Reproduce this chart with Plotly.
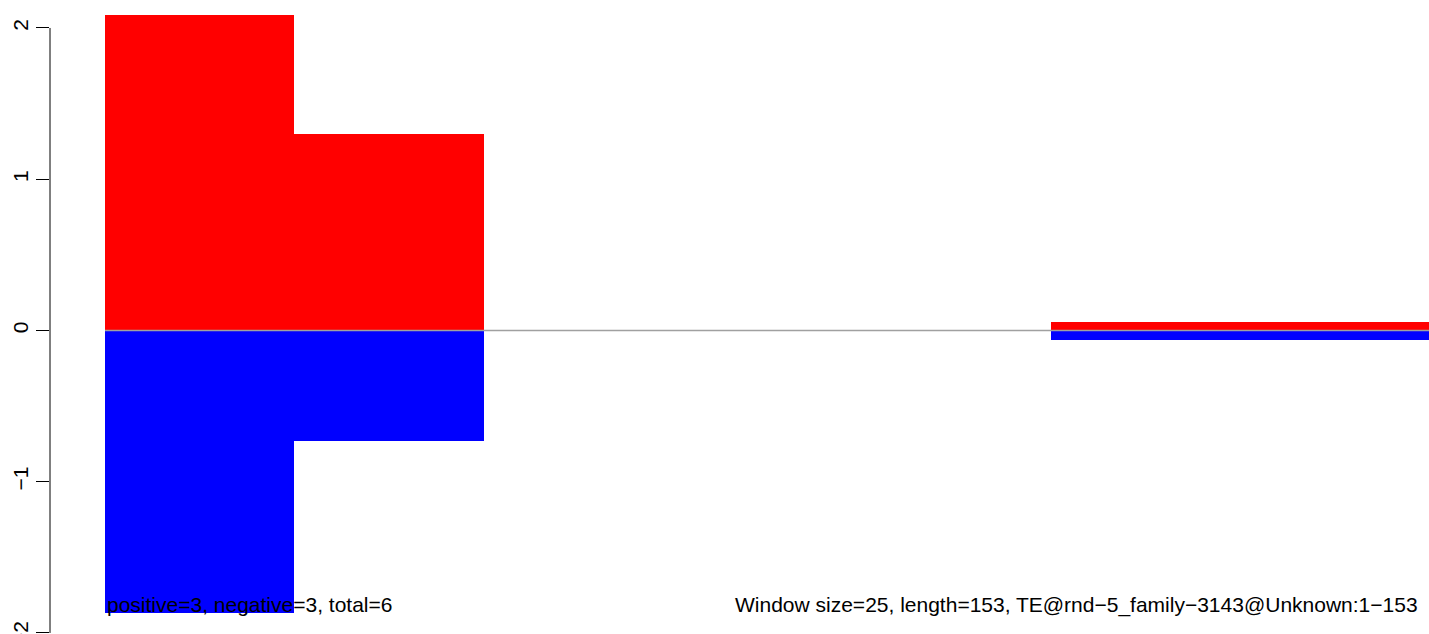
import plotly.graph_objects as go

# Data
window_starts = [0, 25, 50, 75, 100, 125, 150]
window_size = 25
positive = [2.085, 1.297, 0, 0, 0, 0.056, 0.056]
negative = [-1.865, -0.730, 0, 0, 0, -0.063, -0.063]
seq_length = 153
y_ticks = [-2, -1, 0, 1, 2]
left_label = "positive=3, negative=3, total=6"
right_label = "Window size=25, length=153, TE@rnd\u22125_family\u22123143@Unknown:1\u2212153"

FONT = "Liberation Sans, Arial, Helvetica, sans-serif"
FS = 21

mids = [s + window_size / 2 for s in window_starts]

fig = go.Figure()
# zero line
fig.add_trace(go.Scatter(x=[0, window_starts[-1] + window_size], y=[0, 0], mode="lines",
                         line=dict(color="#A0A0A0", width=1.5), hoverinfo="skip",
                         showlegend=False))
fig.add_trace(go.Bar(x=mids, y=positive, width=[window_size] * len(mids),
                     marker=dict(color="#FF0000", line=dict(width=0)), showlegend=False))
fig.add_trace(go.Bar(x=mids, y=negative, width=[window_size] * len(mids),
                     marker=dict(color="#0000FF", line=dict(width=0)), showlegend=False))

fig.update_layout(
    width=1429, height=634,
    margin=dict(l=50, r=0, t=0, b=0),
    plot_bgcolor="white", paper_bgcolor="white",
    barmode="relative", bargap=0,
    font=dict(family=FONT, size=FS, color="black"),
    xaxis=dict(range=[-7.27, 174.9], showgrid=False, zeroline=False, showticklabels=False,
               ticks="", showline=False),
    yaxis=dict(range=[-2.007, 2.185], showgrid=False, zeroline=False, showline=False,
               tickmode="array", tickvals=y_ticks, ticks="outside", ticklen=13,
               tickwidth=1, tickcolor="black", tickangle=-90,
               tickfont=dict(family=FONT, size=FS, color="black")),
    shapes=[dict(type="line", xref="paper", yref="y", x0=0, x1=0, y0=-2, y1=2,
                 line=dict(color="black", width=1))],
    annotations=[
        dict(text=left_label, xref="x", yref="y", x=0, y=-1.815, xanchor="left",
             yanchor="middle", showarrow=False, font=dict(family=FONT, size=FS, color="black")),
        dict(text=right_label, xref="x", yref="y", x=83.0, y=-1.815, xanchor="left",
             yanchor="middle", showarrow=False, font=dict(family=FONT, size=FS, color="black")),
        dict(text="\u22122", xref="paper", yref="y", x=0, y=-2, xshift=-29,
             xanchor="center", yanchor="middle", textangle=-90, showarrow=False,
             font=dict(family=FONT, size=FS, color="black")),
    ],
)

fig.write_html("out.html", config={"displayModeBar": False},
               post_script="document.body.style.margin='0';document.body.style.overflow='hidden';")
